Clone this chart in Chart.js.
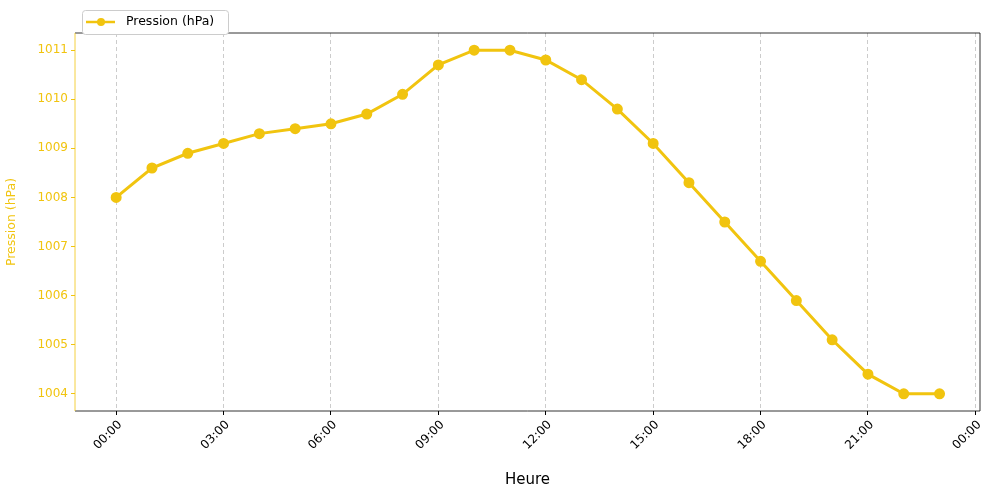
<!DOCTYPE html>
<html><head><meta charset="utf-8">
<script src="https://cdn.jsdelivr.net/npm/chart.js@4/dist/chart.umd.min.js"></script>
<style>html,body{margin:0;padding:0;background:#fff}#w{width:989px;height:493px}</style>
</head><body><div id="w"><canvas id="c"></canvas></div>
<script>
const hours = [0,1,2,3,4,5,6,7,8,9,10,11,12,13,14,15,16,17,18,19,20,21,22,23];
const pressure = [1008,1008.6,1008.9,1009.1,1009.3,1009.4,1009.5,1009.7,1010.1,1010.7,1011,1011,1010.8,1010.4,1009.8,1009.1,1008.3,1007.5,1006.7,1005.9,1005.1,1004.4,1004.0,1004.0];
const xTicks = [0,3,6,9,12,15,18,21,24];
const yTicks = [1004,1005,1006,1007,1008,1009,1010,1011];
const seriesLabel = 'Pression (hPa)';
const col = '#f1c40f';
const fmt = v=>String(v%24).padStart(2,'0')+':00';
const frame = {id:'frame',afterDraw(ch){const a=ch.chartArea,c=ch.ctx;c.save();c.strokeStyle='#000';c.lineWidth=0.8;
 c.beginPath();c.moveTo(a.left,a.top);c.lineTo(a.right,a.top);c.lineTo(a.right,a.bottom);c.lineTo(a.left,a.bottom);c.stroke();
 c.strokeStyle=col;c.beginPath();c.moveTo(a.left,a.top);c.lineTo(a.left,a.bottom);c.stroke();
 // x tick labels rotated -45
 const xs=ch.scales.x;c.fillStyle='#000';c.font='12px "DejaVu Sans"';c.textAlign='right';c.textBaseline='middle';
 xTicks.forEach(v=>{const px=xs.getPixelForValue(v);c.save();c.translate(px+4,a.bottom+12);c.rotate(-Math.PI/4);c.fillText(fmt(v),0,0);c.restore();});
 // legend
 c.textAlign='left';
 c.strokeStyle='#ccc';c.lineWidth=1;c.fillStyle='#fff';c.beginPath();c.roundRect(82.5,10.5,146,24,3);c.fill();c.stroke();
 c.strokeStyle=col;c.lineWidth=2.5;c.beginPath();c.moveTo(86,22);c.lineTo(115,22);c.stroke();
 c.fillStyle=col;c.beginPath();c.arc(101,22,4,0,Math.PI*2);c.fill();
 c.fillStyle='#000';c.font='12.5px "DejaVu Sans"';c.textBaseline='middle';c.fillText(seriesLabel,126,22);c.restore();}};
new Chart(document.getElementById('c'),{type:'line',
 data:{datasets:[{label:seriesLabel,data:hours.map((h,i)=>({x:h,y:pressure[i]})),borderColor:col,backgroundColor:col,borderWidth:3,pointRadius:4,pointHoverRadius:4,tension:0}]},
 options:{responsive:true,maintainAspectRatio:false,animation:false,
  layout:{padding:{top:33,right:9,left:0,bottom:0}},
  plugins:{legend:{display:false},tooltip:{enabled:false}},
  scales:{
   x:{type:'linear',min:-1.15,max:24.13,
    afterBuildTicks(s){s.ticks=xTicks.map(v=>({value:v}));},
    afterFit(s){s.height=82;},
    ticks:{display:false},
    grid:{color:'#ccc',borderDash:[4,3],drawTicks:true,tickColor:'#000',tickLength:4},border:{display:false,dash:[4,3]},
    title:{display:true,text:'Heure',font:{family:'DejaVu Sans',size:15},color:'#000',padding:{top:50}}},
   y:{min:1003.65,max:1011.35,
    afterBuildTicks(s){s.ticks=yTicks.map(v=>({value:v}));},
    afterFit(s){s.width=75;},
    ticks:{color:col,font:{family:'DejaVu Sans',size:12},callback:v=>v},
    grid:{display:true,drawOnChartArea:false,tickColor:col,tickLength:4},border:{display:false},
    title:{display:true,text:'Pression (hPa)',color:col,font:{family:'DejaVu Sans',size:12.5},padding:{top:4,bottom:4}}}}},
 plugins:[frame]});
</script></body></html>
